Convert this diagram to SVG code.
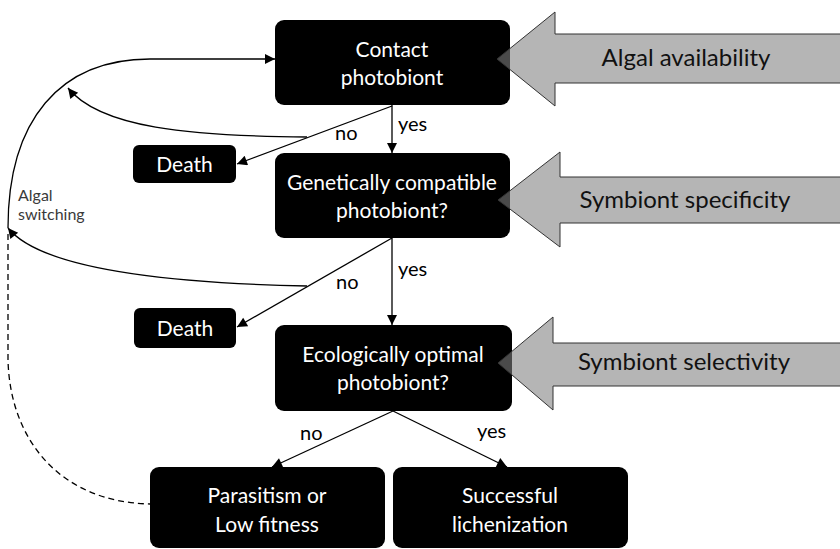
<svg xmlns="http://www.w3.org/2000/svg" width="840" height="549" viewBox="0 0 840 549">
<style>
.box{fill:#000;}
.nt{fill:#fff;font-family:Lato,"Open Sans","Liberation Sans",sans-serif;font-size:21px;text-anchor:middle;}
.lbl{fill:#000;font-family:Lato,"Open Sans","Liberation Sans",sans-serif;font-size:20px;}
.side{fill:#111;font-family:Lato,"Open Sans","Liberation Sans",sans-serif;font-size:24px;text-anchor:middle;}
.big{fill:#7f7f7f;fill-opacity:0.58;stroke:#333;stroke-width:1;}
.ln{fill:none;stroke:#000;stroke-width:1.3;}
.arr{marker-end:url(#ah);}
.sw{fill:#3a3a3a;font-family:Lato,"Open Sans","Liberation Sans",sans-serif;font-size:16px;}
</style>
<defs>
<marker id="ah" viewBox="0 0 10 10" refX="10" refY="5" markerWidth="12" markerHeight="10" markerUnits="userSpaceOnUse" orient="auto">
<path d="M0,0 L10,5 L0,10 z" fill="#000"/>
</marker>
</defs>

<g id="connectors">
<path class="ln arr" d="M392,105 L392,153"/>
<path class="ln arr" d="M392,106 L237,164"/>
<path class="ln arr" d="M307,137 C190,136 100,128 68,88"/>
<path class="ln arr" d="M8,228 C8,120 60,59 150,59 L275,59"/>
<path class="ln arr" d="M392,238 L392,325"/>
<path class="ln arr" d="M392,238 L237,327"/>
<path class="ln arr" d="M307,286 C160,283 40,268 8,228"/>
<path class="ln arr" d="M393,411 L272,467"/>
<path class="ln arr" d="M393,411 L507,467"/>
<path class="ln" stroke-dasharray="6,4" d="M8,234 L8,360 C10,440 60,502 150,504"/>
<text class="lbl" x="398" y="131">yes</text>
<text class="lbl" x="335" y="140">no</text>
<text class="lbl" x="398" y="276">yes</text>
<text class="lbl" x="336" y="289">no</text>
<text class="lbl" x="300" y="440">no</text>
<text class="lbl" x="477" y="438">yes</text>
<text class="sw" x="18" y="201">Algal</text>
<text class="sw" x="18" y="220">switching</text>
</g>

<g id="contact">
<rect class="box" x="275" y="20" width="235" height="85" rx="9"/>
<text class="nt" x="392" y="57">Contact</text>
<text class="nt" x="392" y="85">photobiont</text>
</g>
<g id="death1">
<rect class="box" x="133" y="145" width="103" height="38" rx="6"/>
<text class="nt" x="184.5" y="172">Death</text>
</g>
<g id="genetic">
<rect class="box" x="275" y="153" width="235" height="85" rx="9"/>
<text class="nt" x="392" y="190">Genetically compatible</text>
<text class="nt" x="392" y="218">photobiont?</text>
</g>
<g id="death2">
<rect class="box" x="134" y="308" width="102" height="40" rx="6"/>
<text class="nt" x="185" y="336">Death</text>
</g>
<g id="ecological">
<rect class="box" x="275" y="325" width="237" height="86" rx="9"/>
<text class="nt" x="393" y="362">Ecologically optimal</text>
<text class="nt" x="393" y="390">photobiont?</text>
</g>
<g id="parasitism">
<rect class="box" x="150" y="467" width="235" height="81" rx="9"/>
<text class="nt" x="267" y="503">Parasitism or</text>
<text class="nt" x="267" y="532">Low fitness</text>
</g>
<g id="successful">
<rect class="box" x="393" y="467" width="235" height="81" rx="9"/>
<text class="nt" x="510" y="503">Successful</text>
<text class="nt" x="510" y="532">lichenization</text>
</g>

<g id="algal-availability">
<polygon class="big" points="497,59 555,12 555,34 841,34 841,83 555,83 555,106"/>
<text class="side" x="686" y="66">Algal availability</text>
</g>
<g id="symbiont-specificity">
<polygon class="big" points="498,200 560,152 560,177 841,177 841,223 560,223 560,247"/>
<text class="side" x="685" y="208">Symbiont specificity</text>
</g>
<g id="symbiont-selectivity">
<polygon class="big" points="498,363 553,317 553,343 841,343 841,386 553,386 553,410"/>
<text class="side" x="684" y="370">Symbiont selectivity</text>
</g>
</svg>
